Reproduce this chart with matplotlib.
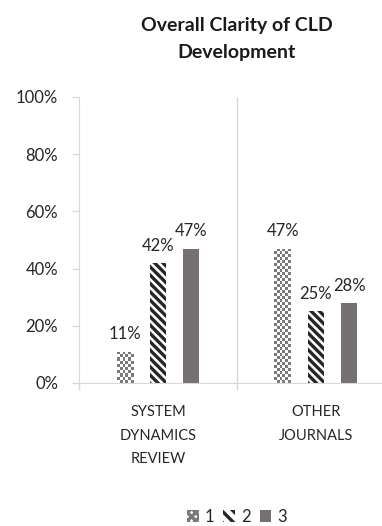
import numpy as np
import matplotlib.pyplot as plt
from matplotlib.colors import ListedColormap
from matplotlib.patches import Patch

plt.rcParams['font.family'] = ['Lato', 'DejaVu Sans']
plt.rcParams['hatch.linewidth'] = 2.4

categories = ['SYSTEM\nDYNAMICS\nREVIEW', 'OTHER\nJOURNALS']
series_names = ['1', '2', '3']
values = [
    [11, 47],
    [42, 25],
    [47, 28],
]
yticks = [0, 20, 40, 60, 80, 100]

checker_color = '#7a7a7a'
stripe_color = '#262626'
solid_color = '#767171'

fig = plt.figure(figsize=(3.82, 5.26), dpi=100)
ax = fig.add_axes([0.2068, 0.2719, 0.827, 0.5437])
ax.set_xlim(0.5, 2.5)
ax.set_ylim(0, 100)

x = np.arange(1, len(categories) + 1)
width = 0.105
gap = 0.21

bar_groups = []
# series 1: checkerboard texture clipped to the bar
b1 = ax.bar(x - gap, values[0], width, facecolor='none', linewidth=0)
for b in b1:
    x0, w, h = b.get_x(), b.get_width(), b.get_height()
    p0 = ax.transData.transform((x0, 0))
    p1 = ax.transData.transform((x0 + w, h))
    nx = max(1, int(round((p1[0] - p0[0]) / 3)))
    ny = max(1, int(round((p1[1] - p0[1]) / 3)))
    arr = np.add.outer(np.arange(ny), np.arange(nx)) % 2
    im = ax.imshow(arr, extent=[x0, x0 + w, 0, h], origin='lower', aspect='auto',
                   interpolation='nearest', zorder=2,
                   cmap=ListedColormap(['white', checker_color]))
    im.set_clip_path(b)
bar_groups.append(b1)

b2 = ax.bar(x, values[1], width, facecolor='white', edgecolor=stripe_color,
            hatch='\\\\\\\\', linewidth=0)
bar_groups.append(b2)
b3 = ax.bar(x + gap, values[2], width, color=solid_color, linewidth=0)
bar_groups.append(b3)

for bars, vals in zip(bar_groups, values):
    for b, v in zip(bars, vals):
        ax.text(b.get_x() + b.get_width() / 2, v + 3.2, f'{v}%', ha='center',
                va='bottom', fontsize=12, color='#262626')

ax.set_xlim(0.5, 2.5)
ax.set_ylim(0, 100)
ax.set_yticks(yticks)
ax.set_yticklabels([f'{t}%' for t in yticks], fontsize=12, color='#262626')
ax.set_xticks(x)
ax.set_xticklabels(categories, fontsize=10.5, color='#262626', linespacing=1.85)
ax.set_xticks([0.5, 1.5, 2.5], minor=True)
ax.tick_params(axis='x', which='major', length=0, pad=16)
ax.tick_params(axis='x', which='minor', length=5, color='#d9d9d9', width=1)
ax.tick_params(axis='y', length=5, color='#d9d9d9', width=1, pad=10)
ax.axvline(1.5, color='#d9d9d9', lw=1, zorder=0)

for s in ['top', 'right']:
    ax.spines[s].set_visible(False)
for s in ['left', 'bottom']:
    ax.spines[s].set_color('#d9d9d9')

ax.set_title('Overall Clarity of CLD\nDevelopment', fontsize=14, fontweight='bold',
             color='#1a1a1a', pad=28, linespacing=1.75)

handles = [
    Patch(facecolor='white', edgecolor=checker_color, hatch='xxxx', linewidth=0),
    Patch(facecolor='white', edgecolor=stripe_color, hatch='\\\\\\', linewidth=0),
    Patch(facecolor=solid_color, linewidth=0),
]
fig.legend(handles, series_names, loc='center', bbox_to_anchor=(0.62, 0.017),
           ncol=3, frameon=False, fontsize=12, handlelength=0.7, handleheight=0.7,
           handletextpad=0.35, columnspacing=0.55, labelcolor='#262626')

fig.savefig('out.png', dpi=100)
